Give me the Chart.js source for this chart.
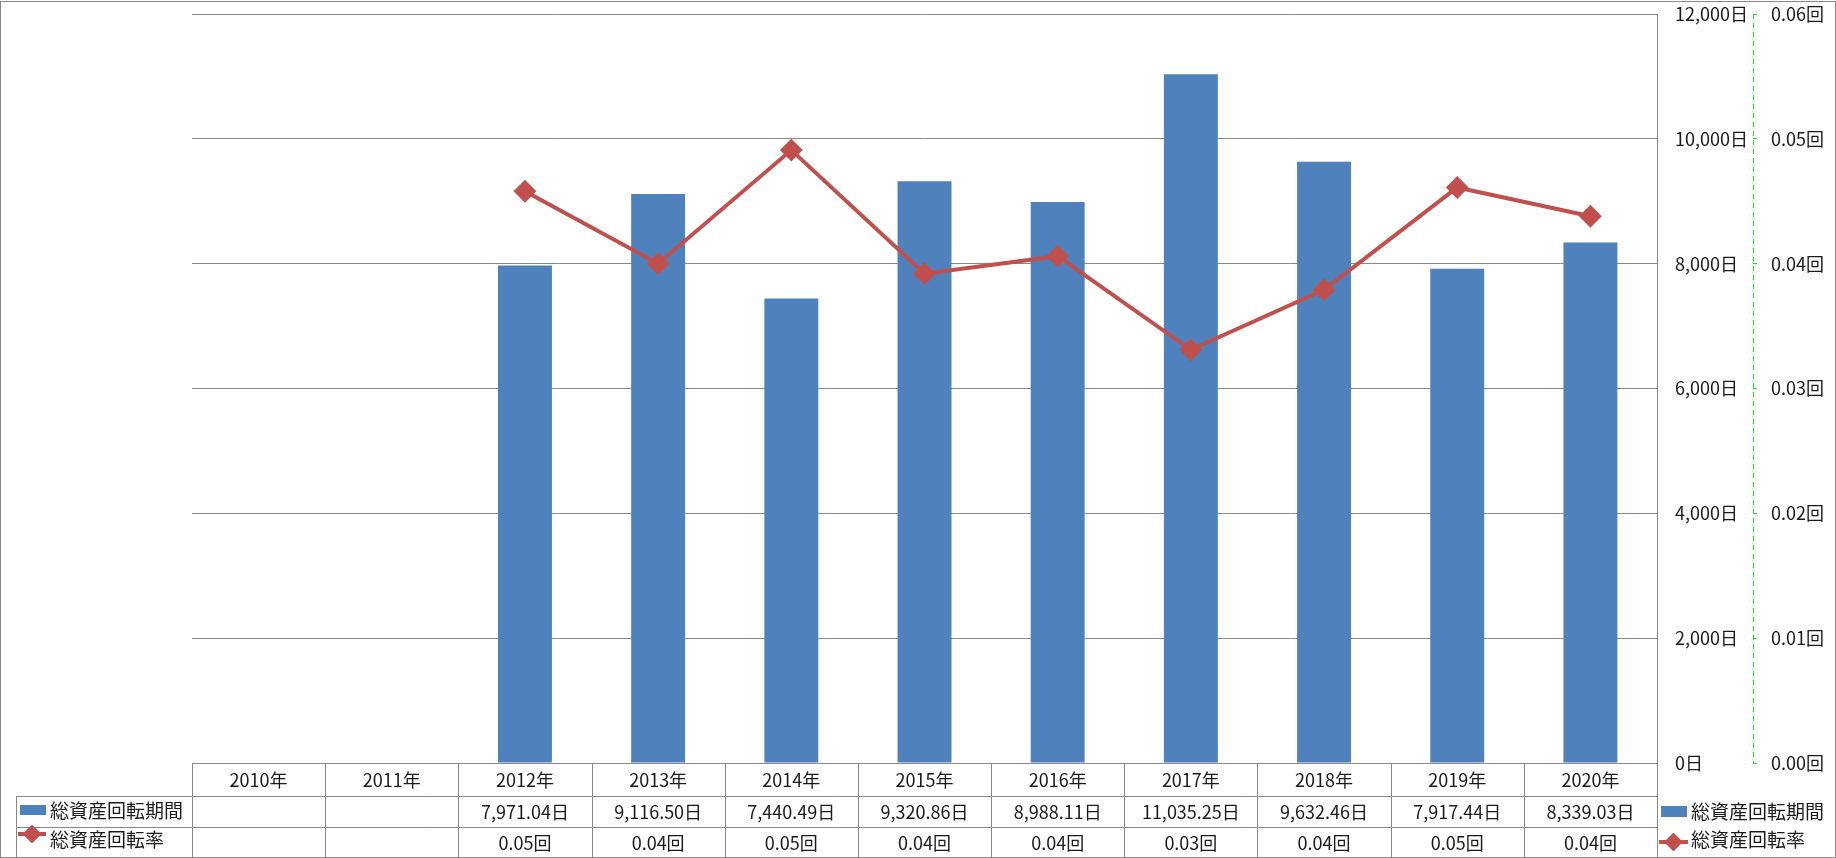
<!DOCTYPE html>
<html>
<head>
<meta charset="utf-8">
<script src="https://cdn.jsdelivr.net/npm/chart.js@4.4.1/dist/chart.umd.min.js"></script>
<style>
  html, body { margin: 0; padding: 0; background: #fff; }
</style>
</head>
<body>
<canvas id="chart" width="1836" height="858"></canvas>
<script>
// data
const years = ["2010年", "2011年", "2012年", "2013年", "2014年", "2015年", "2016年", "2017年", "2018年", "2019年", "2020年"];
const periodDays = [null, null, 7971.04, 9116.50, 7440.49, 9320.86, 8988.11, 11035.25, 9632.46, 7917.44, 8339.03];
const turnoverRate = [null, null, 0.0458, 0.0400, 0.0491, 0.0392, 0.0406, 0.0331, 0.0379, 0.0461, 0.0438];
const periodName = "総資産回転期間";
const rateName = "総資産回転率";

const BLUE = "#4F81BD";
const RED = "#C0504D";
const GRID = "#898989";
const GREEN = "#22dd22";
const TEXT = "#1a1a1a";
const FONT = '"Noto Sans CJK JP", "Noto Sans", sans-serif';

Chart.defaults.font.family = FONT;
Chart.defaults.font.size = 18;
Chart.defaults.color = TEXT;

const fmtDays = v => v.toLocaleString("en-US", { minimumFractionDigits: 2, maximumFractionDigits: 2 }) + "日";
const fmtRate = v => v.toFixed(2) + "回";

function diamond(ctx, x, y, r, color) {
    ctx.save();
    ctx.fillStyle = color;
    ctx.strokeStyle = color;
    ctx.lineJoin = "round";
    ctx.lineWidth = 2;
    ctx.beginPath();
    ctx.moveTo(x, y - r);
    ctx.lineTo(x + r, y);
    ctx.lineTo(x, y + r);
    ctx.lineTo(x - r, y);
    ctx.closePath();
    ctx.fill();
    ctx.stroke();
    ctx.restore();
}

function lineKey(ctx, x0, x1, y) {
    ctx.save();
    ctx.strokeStyle = RED;
    ctx.lineWidth = 4;
    ctx.beginPath();
    ctx.moveTo(x0, y);
    ctx.lineTo(x1, y);
    ctx.stroke();
    ctx.restore();
    diamond(ctx, (x0 + x1) / 2, y, 8, RED);
}

// fixed axis widths, no extra padding for the end labels
function fitAxis(width) {
    return s => {
        s.width = width;
        s.paddingTop = 0;
        s.paddingBottom = 0;
    };
}

// data table under the plot, legend at the bottom right, outer frame
const tablePlugin = {
    id: "dataTable",
    afterDraw(chart) {
        const ctx = chart.ctx;
        const area = chart.chartArea;
        const xs = chart.scales.x;
        const y1 = chart.scales.y1;
        const n = years.length;
        const colW = (area.right - area.left) / n;
        const rows = [area.bottom, 796, 827, 857];
        const keyLeft = 16;

        ctx.save();

        // dashed axis line of the rate scale
        ctx.strokeStyle = GREEN;
        ctx.lineWidth = 1;
        ctx.setLineDash([5, 4]);
        ctx.beginPath();
        ctx.moveTo(Math.round(y1.left) + 0.5, y1.top);
        ctx.lineTo(Math.round(y1.left) + 0.5, y1.bottom + 1);
        ctx.stroke();
        ctx.setLineDash([]);

        ctx.strokeStyle = GRID;

        // outer frame
        ctx.strokeRect(0.5, 1.5, chart.width - 1, chart.height - 2);

        // horizontal table lines
        ctx.beginPath();
        ctx.moveTo(area.left, Math.round(rows[0]) + 0.5);
        ctx.lineTo(area.right, Math.round(rows[0]) + 0.5);
        for (let r = 1; r < rows.length; r++) {
            ctx.moveTo(keyLeft, rows[r] + 0.5);
            ctx.lineTo(area.right, rows[r] + 0.5);
        }
        // vertical table lines
        for (let i = 0; i <= n; i++) {
            const x = Math.round(area.left + i * colW) + 0.5;
            ctx.moveTo(x, rows[0]);
            ctx.lineTo(x, rows[3]);
        }
        ctx.moveTo(keyLeft + 0.5, rows[1]);
        ctx.lineTo(keyLeft + 0.5, rows[3]);
        ctx.stroke();

        // cell texts
        ctx.fillStyle = TEXT;
        ctx.font = "18px " + FONT;
        ctx.textAlign = "center";
        ctx.textBaseline = "middle";
        for (let i = 0; i < n; i++) {
            const cx = xs.getPixelForValue(i);
            ctx.fillText(years[i], cx, (rows[0] + rows[1]) / 2 + 1);
            if (periodDays[i] !== null) ctx.fillText(fmtDays(periodDays[i]), cx, (rows[1] + rows[2]) / 2 + 1);
            if (turnoverRate[i] !== null) ctx.fillText(fmtRate(turnoverRate[i]), cx, (rows[2] + rows[3]) / 2 + 1);
        }

        // row keys in the table
        ctx.font = "19px " + FONT;
        ctx.textAlign = "left";
        ctx.fillStyle = BLUE;
        ctx.fillRect(20, 805, 26, 10);
        lineKey(ctx, 18, 46, 834);
        ctx.fillStyle = TEXT;
        ctx.fillText(periodName, 50, 811);
        ctx.fillText(rateName, 50, 840);

        // legend on the right
        ctx.fillStyle = BLUE;
        ctx.fillRect(1661, 806, 26, 11);
        lineKey(ctx, 1659, 1688, 842);
        ctx.fillStyle = TEXT;
        ctx.fillText(periodName, 1691, 812);
        ctx.fillText(rateName, 1691, 840);
        ctx.restore();
    }
};

new Chart(document.getElementById("chart"), {
    type: "bar",
    data: {
        labels: years,
        datasets: [
            {
                type: "line",
                label: rateName,
                data: turnoverRate,
                yAxisID: "y1",
                borderColor: RED,
                backgroundColor: RED,
                borderWidth: 4,
                pointStyle: "rectRot",
                pointRadius: 10,
                pointBorderWidth: 2,
                pointBackgroundColor: RED,
                tension: 0,
                order: 0
            },
            {
                label: periodName,
                data: periodDays,
                yAxisID: "y",
                backgroundColor: BLUE,
                barPercentage: 0.405,
                categoryPercentage: 1,
                order: 1
            }
        ]
    },
    options: {
        responsive: false,
        animation: false,
        devicePixelRatio: 1,
        layout: { padding: { left: 192, top: 14, right: 0, bottom: 95 } },
        plugins: { legend: { display: false }, tooltip: { enabled: false } },
        scales: {
            x: { display: false },
            y: {
                position: "right",
                weight: 0,
                min: 0,
                max: 12000,
                ticks: { stepSize: 2000, padding: 18, callback: v => v.toLocaleString("en-US") + "日" },
                grid: { color: GRID, drawTicks: false },
                border: { color: GRID },
                afterFit: fitAxis(96)
            },
            y1: {
                position: "right",
                weight: 1,
                min: 0,
                max: 0.06,
                ticks: { stepSize: 0.01, padding: 14, callback: v => v.toFixed(2) + "回" },
                grid: { drawOnChartArea: false, color: GREEN, tickLength: 4 },
                border: { display: false },
                afterFit: fitAxis(83)
            }
        }
    },
    plugins: [tablePlugin]
});
</script>
</body>
</html>
